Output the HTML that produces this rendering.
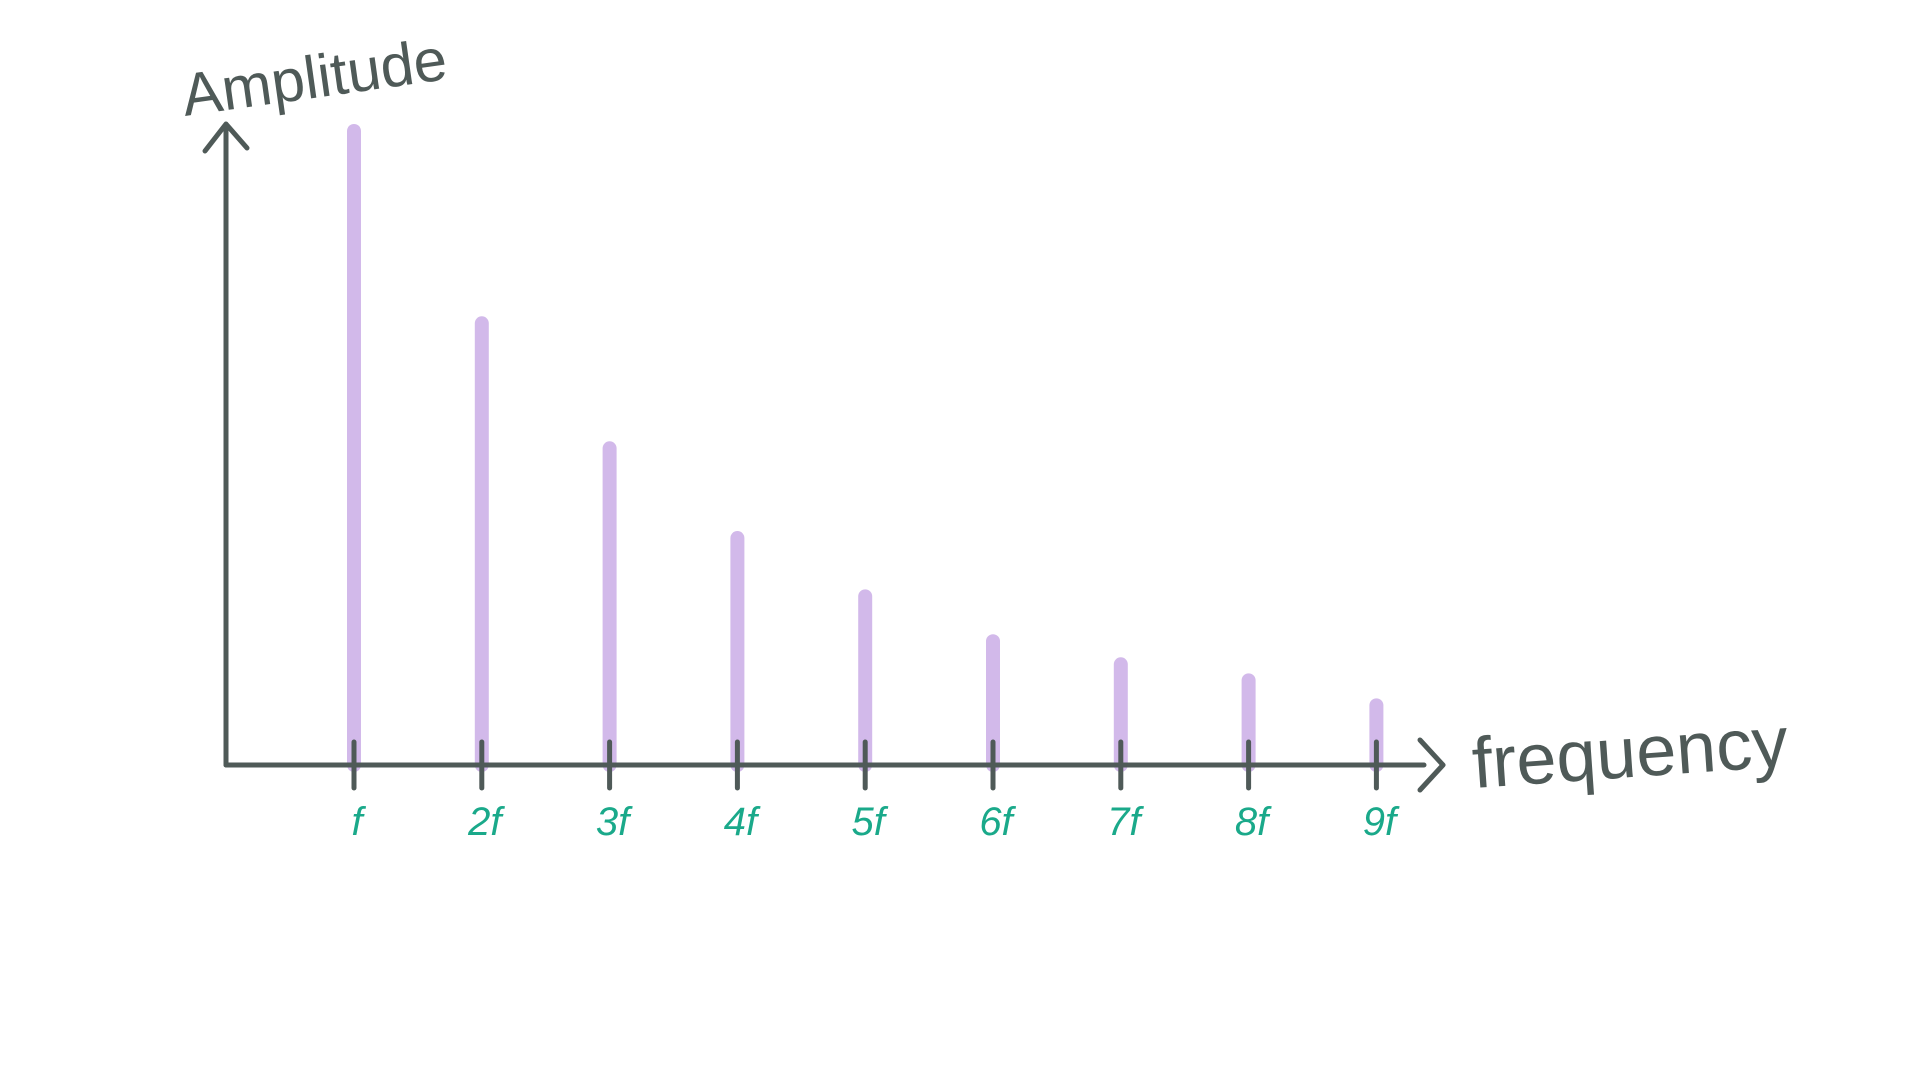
<!DOCTYPE html>
<html><head><meta charset="utf-8"><style>
html,body{margin:0;padding:0;background:#fff;}
svg{display:block;}
</style></head><body>
<svg id="chart" width="1930" height="1088" viewBox="0 0 1930 1088" xmlns="http://www.w3.org/2000/svg">
<g id="bars"></g>
<line x1="226" y1="765" x2="226" y2="126" stroke="#4f5a58" stroke-width="5" stroke-linecap="round"/>
<polyline points="205,151 226,124 247,148" fill="none" stroke="#4f5a58" stroke-width="5" stroke-linecap="round" stroke-linejoin="round"/>
<line x1="226" y1="765" x2="1424" y2="765" stroke="#4f5a58" stroke-width="5" stroke-linecap="round"/>
<polyline points="1420,740 1443,765 1420,790" fill="none" stroke="#4f5a58" stroke-width="5" stroke-linecap="round" stroke-linejoin="round"/>
<g id="ticks"></g>
<text x="185" y="116" transform="rotate(-8 185 116)" font-family="Liberation Sans, sans-serif" font-size="60" fill="#4f5a58">Amplitude</text>
<text x="1474" y="788" transform="rotate(-4 1474 788)" font-family="Liberation Sans, sans-serif" font-size="72" fill="#4f5a58">frequency</text>
</svg>
<script>
const categories = ["f","2f","3f","4f","5f","6f","7f","8f","9f"];
const amplitudes = [1.0, 0.70, 0.505, 0.365, 0.274, 0.204, 0.168, 0.143, 0.104];
const ns = "http://www.w3.org/2000/svg";
const x0 = 354, step = 127.8, baseY = 765, fullH = 641;
function xPos(i){ return x0 + i*step; }
function yPos(v){ return baseY - v*fullH; }
const barsG = document.getElementById('bars');
const ticksG = document.getElementById('ticks');
categories.forEach((c,i)=>{
  const x = xPos(i);
  const b = document.createElementNS(ns,'line');
  b.setAttribute('x1',x); b.setAttribute('x2',x);
  b.setAttribute('y1',yPos(amplitudes[i])+7); b.setAttribute('y2',baseY);
  b.setAttribute('stroke','#d2b9ea'); b.setAttribute('stroke-width','14'); b.setAttribute('stroke-linecap','round');
  
  
  barsG.appendChild(b);
  const t = document.createElementNS(ns,'line');
  t.setAttribute('x1',x); t.setAttribute('x2',x); t.setAttribute('y1',742); t.setAttribute('y2',788);
  t.setAttribute('stroke','#4f5a58'); t.setAttribute('stroke-width','5'); t.setAttribute('stroke-linecap','round');
  
  
  ticksG.appendChild(t);
  const l = document.createElementNS(ns,'text');
  l.setAttribute('x', x + 3); l.setAttribute('y', 835);
  l.setAttribute('text-anchor','middle');
  l.setAttribute('font-family','Liberation Sans, sans-serif');
  l.setAttribute('font-size','40'); l.setAttribute('font-style','italic');
  l.setAttribute('fill','#1aa98a');
  l.textContent = c;
  
  
  ticksG.appendChild(l);
});
</script>
</body></html>
